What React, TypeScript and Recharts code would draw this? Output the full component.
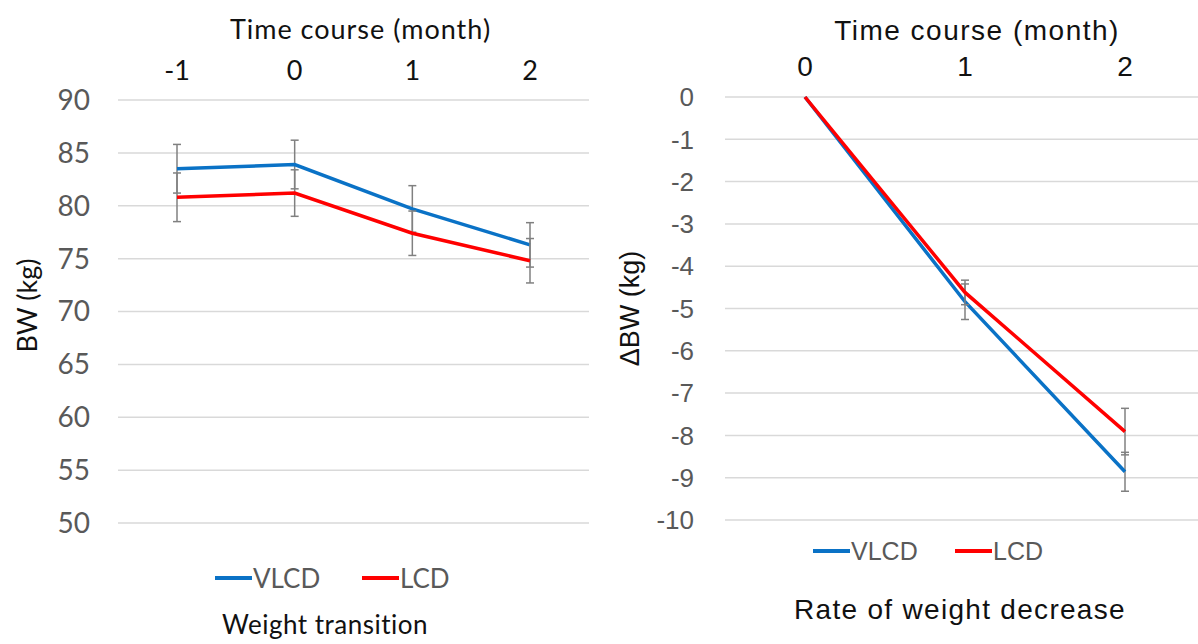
import React from "react";
import {
  LineChart,
  Line,
  CartesianGrid,
  XAxis,
  YAxis,
  ErrorBar,
  Legend,
} from "recharts";

// weight transition (kg)
const monthsBW = ["-1", "0", "1", "2"];
const vlcdBW = [83.5, 83.9, 79.7, 76.3];
const lcdBW = [80.8, 81.2, 77.4, 74.8];
const vlcdBWErr = [2.3, 2.3, 2.2, 2.1];
const lcdBWErr = [2.3, 2.2, 2.1, 2.1];
const bwTicks = [50, 55, 60, 65, 70, 75, 80, 85, 90];

// rate of weight decrease (delta kg)
const monthsDelta = ["0", "1", "2"];
const vlcdDelta = [0, -4.84, -8.86];
const lcdDelta = [0, -4.62, -7.91];
const vlcdDeltaErr = [0, 0.42, 0.46];
const lcdDeltaErr = [0, 0.29, 0.55];
const deltaTicks = [-10, -9, -8, -7, -6, -5, -4, -3, -2, -1, 0];

const BLUE = "#0A72C6";
const RED = "#FF0000";
const GRID = "#D9D9D9";
const ERR = "#808080";
const LEFT_FONT = "Lato, 'Open Sans', sans-serif";
const RIGHT_FONT = "'Liberation Sans', Arial, sans-serif";

const bwData = monthsBW.map((m, i) => ({
  month: m,
  vlcd: vlcdBW[i],
  lcd: lcdBW[i],
  vlcdErr: vlcdBWErr[i],
  lcdErr: lcdBWErr[i],
}));

const deltaData = monthsDelta.map((m, i) => ({
  month: m,
  vlcd: vlcdDelta[i],
  lcd: lcdDelta[i],
  vlcdErr: vlcdDeltaErr[i],
  lcdErr: lcdDeltaErr[i],
}));

const topTitle =
  (text: string, font: string, size: number, baseline: number, shift: number, spacing: number) =>
  (props: any) => {
    const vb = props.viewBox;
    return (
      <text
        x={vb.x + vb.width / 2 + shift}
        y={baseline}
        textAnchor="middle"
        fill="#111"
        fontFamily={font}
        fontSize={size}
        letterSpacing={spacing}
      >
        {text}
      </text>
    );
  };

const sideTitle =
  (text: string, font: string, size: number, cx: number, shift: number) => (props: any) => {
    const vb = props.viewBox;
    const cy = vb.y + vb.height / 2 + shift;
    return (
      <text
        x={cx}
        y={cy}
        transform={`rotate(-90 ${cx} ${cy})`}
        textAnchor="middle"
        dominantBaseline="central"
        fill="#111"
        fontFamily={font}
        fontSize={size}
      >
        {text}
      </text>
    );
  };

type LegendSpec = {
  font: string;
  size: number;
  lineY: number;
  blueX: number;
  redX: number;
  lineLen: number;
  caption: string;
  captionX: number;
  captionY: number;
  captionSize: number;
  captionSpacing: number;
};

const LegendBox = ({ spec }: { spec: LegendSpec }) => {
  const item = (x: number, color: string, label: string) => (
    <div style={{ position: "absolute", left: x, top: spec.lineY - 20, height: 40, display: "flex", alignItems: "center" }}>
      <div style={{ width: spec.lineLen, height: 4, background: color }} />
      <span style={{ fontFamily: spec.font, fontSize: spec.size, color: "#595959", marginLeft: 1 }}>{label}</span>
    </div>
  );
  return (
    <div style={{ position: "relative", width: 600, height: 644 }}>
      {item(spec.blueX, BLUE, "VLCD")}
      {item(spec.redX, RED, "LCD")}
      <div
        style={{
          position: "absolute",
          left: spec.captionX - 250,
          width: 500,
          top: spec.captionY - 18,
          height: 36,
          lineHeight: "36px",
          textAlign: "center",
          fontFamily: spec.font,
          fontSize: spec.captionSize,
          letterSpacing: spec.captionSpacing,
          color: "#111",
          whiteSpace: "nowrap",
        }}
      >
        {spec.caption}
      </div>
    </div>
  );
};

const leftLegend: LegendSpec = {
  font: LEFT_FONT,
  size: 26,
  lineY: 578,
  blueX: 215,
  redX: 362,
  lineLen: 37,
  caption: "Weight transition",
  captionX: 325,
  captionY: 624,
  captionSize: 26,
  captionSpacing: 0.5,
};

const rightLegend: LegendSpec = {
  font: RIGHT_FONT,
  size: 25,
  lineY: 551,
  blueX: 213,
  redX: 355,
  lineLen: 37,
  caption: "Rate of weight decrease",
  captionX: 360,
  captionY: 610,
  captionSize: 28,
  captionSpacing: 1.3,
};

const App = () => {
  return (
    <div
      style={{
        position: "fixed",
        left: 0,
        top: 0,
        width: 1198,
        height: 644,
        overflow: "hidden",
        background: "#fff",
      }}
    >
      <div style={{ position: "absolute", left: 0, top: 0 }}>
        <LineChart width={600} height={644} data={bwData} margin={{ top: 0, right: 11, left: 0, bottom: 121 }}>
          <CartesianGrid vertical={false} stroke={GRID} strokeWidth={1.5} />
          <XAxis
            dataKey="month"
            orientation="top"
            height={100}
            axisLine={false}
            tickLine={false}
            tickMargin={14}
            padding={{ left: 59, right: 59 }}
            tick={{ fill: "#111", fontSize: 27, fontFamily: LEFT_FONT }}
            label={topTitle("Time course (month)", LEFT_FONT, 27, 39, 7, 1)}
          />
          <YAxis
            domain={[50, 90]}
            ticks={bwTicks}
            width={118}
            axisLine={false}
            tickLine={false}
            tickMargin={22}
            tick={{ fill: "#595959", fontSize: 28, fontFamily: LEFT_FONT }}
            label={sideTitle("BW (kg)", LEFT_FONT, 27, 26, -6)}
          />
          <Legend
            layout="horizontal"
            verticalAlign="middle"
            align="center"
            wrapperStyle={{ left: 0, top: 0, width: 600, height: 644, pointerEvents: "none" }}
            content={() => <LegendBox spec={leftLegend} />}
          />
          <Line type="linear" dataKey="vlcd" stroke={BLUE} strokeWidth={3.5} dot={false} isAnimationActive={false}>
            <ErrorBar dataKey="vlcdErr" direction="y" width={4} stroke={ERR} strokeWidth={1.5} />
          </Line>
          <Line type="linear" dataKey="lcd" stroke={RED} strokeWidth={3.5} dot={false} isAnimationActive={false}>
            <ErrorBar dataKey="lcdErr" direction="y" width={4} stroke={ERR} strokeWidth={1.5} />
          </Line>
        </LineChart>
      </div>
      <div style={{ position: "absolute", left: 600, top: 0 }}>
        <LineChart width={605} height={644} data={deltaData} margin={{ top: 0, right: 0, left: 0, bottom: 124 }}>
          <CartesianGrid vertical={false} stroke={GRID} strokeWidth={1.5} />
          <XAxis
            dataKey="month"
            orientation="top"
            height={97}
            axisLine={false}
            tickLine={false}
            tickMargin={15}
            padding={{ left: 80, right: 80 }}
            tick={{ fill: "#111", fontSize: 28, fontFamily: RIGHT_FONT }}
            label={topTitle("Time course (month)", RIGHT_FONT, 28, 40, 12, 1.5)}
          />
          <YAxis
            domain={[-10, 0]}
            ticks={deltaTicks}
            width={125}
            axisLine={false}
            tickLine={false}
            tickMargin={25}
            tick={{ fill: "#595959", fontSize: 26, fontFamily: RIGHT_FONT }}
            label={sideTitle("\u0394BW (kg)", RIGHT_FONT, 27, 30, 0)}
          />
          <Legend
            layout="horizontal"
            verticalAlign="middle"
            align="center"
            wrapperStyle={{ left: 0, top: 0, width: 600, height: 644, pointerEvents: "none" }}
            content={() => <LegendBox spec={rightLegend} />}
          />
          <Line type="linear" dataKey="vlcd" stroke={BLUE} strokeWidth={3.5} dot={false} isAnimationActive={false}>
            <ErrorBar dataKey="vlcdErr" direction="y" width={4} stroke={ERR} strokeWidth={1.5} />
          </Line>
          <Line type="linear" dataKey="lcd" stroke={RED} strokeWidth={3.5} dot={false} isAnimationActive={false}>
            <ErrorBar dataKey="lcdErr" direction="y" width={4} stroke={ERR} strokeWidth={1.5} />
          </Line>
        </LineChart>
      </div>
    </div>
  );
};

export default App;
